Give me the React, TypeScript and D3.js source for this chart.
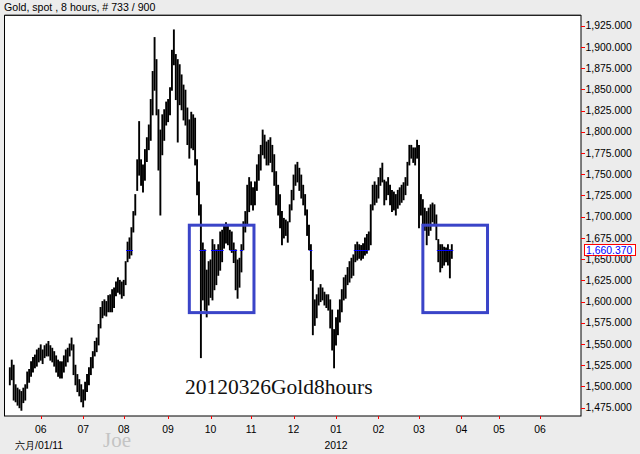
import React from 'react';
import * as d3 from 'd3';

const titleText = 'Gold, spot , 8 hours, # 733 / 900';
const annotation = '20120326Gold8hours';
const watermark = 'Joe';
const firstDay = -16; // trading-day index of first bar (0 = 2011-06-01)

const highs = [
  1522,1531,1525,1502,1498,1496,1494,1498,1502,1517,
  1520,1529,1534,1537,1543,1545,
  1549,1543,1548,1550,1553,1548,1545,1541,1536,1531,
  1529,1529,1536,1543,1545,1550,1557,1549,1525,1514,
  1508,1502,1496,1505,1514,1522,1534,1541,1553,1557,
  1573,1593,1600,1602,1600,1607,1608,1614,1616,1623,
  1628,1625,
  1623,1625,1647,1670,1675,1687,1706,1726,
  1767,1812,1767,1761,1779,1793,1808,1838,1871,1911,
  1885,1826,1802,1820,1826,1835,1838,1852,1896,1920,
  1891,1885,1879,1867,1855,1849,1828,1814,1823,1820,
  1816,1767,1741,1714,1669,1661,1637,1647,1649,1673,
  1667,1661,1667,1682,1684,1689,1693,1690,1684,1682,
  1669,1661,1649,1651,1667,1694,1706,1737,1746,1741,
  1734,1741,1761,1773,1784,1802,1796,1788,1790,1793,
  1784,1773,1753,1737,1726,1706,1698,1696,1694,1714,
  1731,1749,1761,1764,1757,1749,1737,1726,1708,1690,
  1667,1637,1602,1608,1616,1620,1616,1611,1608,1608,
  1602,1590,1567,1581,1590,1602,1614,1628,1631,1640,
  1647,1651,1655,1667,1670,1667,1666,1668,1675,1679,
  1682,1714,1737,1741,1737,1746,1757,1763,1743,1741,
  1746,1737,1731,1729,1726,1731,1734,1737,1740,1746,
  1764,1784,1784,1781,1781,1790,1784,1726,1720,1710,
  1706,1710,1714,1716,1714,1702,1673,1667,1667,1664,
  1663,1667,1661,1667,
];

const lows = [
  1502,1508,1484,1482,1478,1475,1472,1481,1484,1498,
  1505,1512,1517,1522,1524,1529,
  1531,1527,1534,1536,1536,1531,1529,1524,1517,1512,
  1510,1510,1517,1524,1529,1536,1543,1514,1502,1494,
  1489,1482,1476,1484,1494,1502,1514,1522,1536,1541,
  1549,1569,1581,1584,1583,1588,1588,1588,1593,1607,
  1611,1609,
  1604,1607,1620,1647,1651,1655,1682,1702,
  1731,1749,1737,1729,1743,1765,1779,1790,1820,1849,
  1820,1755,1702,1773,1790,1808,1812,1820,1849,1879,
  1838,1788,1832,1826,1814,1808,1785,1769,1781,1779,
  1761,1726,1702,1534,1602,1590,1582,1596,1605,1602,
  1614,1620,1631,1637,1647,1663,1669,1667,1661,1658,
  1646,1614,1604,1617,1635,1661,1682,1690,1706,1714,
  1708,1714,1731,1743,1755,1773,1769,1761,1761,1764,
  1753,1737,1714,1702,1687,1667,1675,1678,1670,1694,
  1708,1720,1737,1741,1731,1722,1714,1702,1678,1661,
  1625,1561,1572,1581,1596,1600,1602,1596,1593,1590,
  1569,1543,1522,1549,1561,1576,1588,1602,1604,1620,
  1623,1628,1631,1647,1649,1651,1649,1651,1655,1657,
  1661,1667,1708,1714,1717,1722,1737,1741,1714,1720,
  1726,1714,1706,1708,1702,1710,1714,1717,1720,1726,
  1737,1761,1769,1764,1761,1769,1687,1702,1690,1684,
  1667,1678,1684,1694,1690,1673,1647,1635,1640,1643,
  1647,1643,1628,1651,
];

const lastPrice = 1660.37;
const lastPriceLabel = '1,660.370';

const yTickValues = [1475,1500,1525,1550,1575,1600,1625,1650,1675,1700,1725,1750,1775,1800,1825,1850,1875,1900,1925];
const monthLabels = ['06','07','08','09','10','11','12','01','02','03','04','05','06'];
const monthDayIndex = [0,22,43,66,88,109,131,153,175,196,218,237.5,258.7];
const bottomLabels = [
  { text: '六月/01/11', at: 0, anchor: 'start' },
  { text: '2012', at: 153, anchor: 'middle' },
];

const boxFrom = [77, 198];
const boxTo = [110.5, 231.5];
const boxHigh = 1690;
const boxLow = 1587;

export default function App() {
  const W = 640, H = 454;
  const plot = { left: 4.5, top: 15.5, right: 581, bottom: 416 };
  const x = d3.scaleLinear().domain([0, 196]).range([40.7, 419]);
  const y = d3.scaleLinear().domain([1475, 1925]).range([407.7, 25.7]);
  const fmt = d3.format(',.3f');
  const sans = '"Liberation Sans", Arial, sans-serif';
  const serif = '"Liberation Serif", "Times New Roman", serif';

  const bars = highs.map((h, k) => ({ i: firstDay + k, h, l: lows[k] }));

  return (
    <svg width={W} height={H} style={{ position: 'absolute', left: 0, top: 0 }}>
      <rect x={0} y={0} width={W} height={H} fill="#ececec" />
      <text x={4} y={10.5} fontFamily={sans} fontSize={10.6} fill="#000">{titleText}</text>
      <rect x={plot.left} y={plot.top} width={plot.right - plot.left} height={plot.bottom - plot.top}
        fill="#fff" stroke="#000" strokeWidth={1} />
      <line x1={plot.left} x2={plot.right} y1={15} y2={15} stroke="#444" strokeWidth={1} />

      {/* right axis */}
      {yTickValues.map(v => (
        <g key={v}>
          <line x1={plot.right} x2={plot.right + 4} y1={Math.round(y(v)) + 0.5} y2={Math.round(y(v)) + 0.5} stroke="#ff0000" strokeWidth={1} />
          <text x={plot.right + 4.5} y={y(v)} dy="0.35em" fontFamily={sans} fontSize={10.4} fill="#000">{fmt(v)}</text>
        </g>
      ))}

      {/* bottom axis */}
      {monthLabels.map((m, k) => {
        const px = Math.round(x(monthDayIndex[k])) + 0.5;
        return (
          <g key={k}>
            <line x1={px} x2={px} y1={plot.bottom} y2={plot.bottom + 3} stroke="#ff0000" strokeWidth={1} />
            <text x={x(monthDayIndex[k])} y={433} textAnchor="middle" fontFamily={sans} fontSize={10.4} fill="#000">{m}</text>
          </g>
        );
      })}
      {bottomLabels.map((b, k) => (
        <text key={k} x={b.anchor === 'start' ? 15 : x(b.at)} y={449} textAnchor={b.anchor}
          fontFamily={sans} fontSize={10.4} fill="#000">{b.text}</text>
      ))}
      <text x={103} y={447} fontFamily={serif} fontSize={21} fill="#c4c4c4">{watermark}</text>

      {/* bars */}
      <g stroke="#000" strokeWidth={1.9}>
        {bars.map(b => (
          <line key={b.i} x1={x(b.i)} x2={x(b.i)} y1={y(b.h) - 0.5} y2={y(b.l) + 0.5} />
        ))}
      </g>
      {/* last price marks */}
      <g stroke="#0000ff" strokeWidth={1}>
        {bars.filter(b => b.l <= lastPrice && b.h >= lastPrice).map(b => (
          <line key={b.i} x1={x(b.i) - 1.5} x2={x(b.i) + 1.5} y1={Math.round(y(lastPrice)) + 0.5} y2={Math.round(y(lastPrice)) + 0.5} />
        ))}
      </g>

      {/* boxes */}
      {boxFrom.map((f, k) => (
        <rect key={k} x={x(f)} y={y(boxHigh)} width={x(boxTo[k]) - x(f)} height={y(boxLow) - y(boxHigh)}
          fill="none" stroke="#3a44c8" strokeWidth={3} />
      ))}

      <text x={185} y={394} fontFamily={serif} fontSize={21.5} fill="#111">{annotation}</text>

      {/* last price label */}
      <rect x={584.5} y={Math.round(y(lastPrice)) - 5.5} width={51} height={11} fill="#fff" stroke="#ff0000" strokeWidth={1} />
      <text x={586} y={y(lastPrice) + 0.5} dy="0.35em" fontFamily={sans} fontSize={10.4} fill="#0000ff">{lastPriceLabel}</text>
    </svg>
  );
}
